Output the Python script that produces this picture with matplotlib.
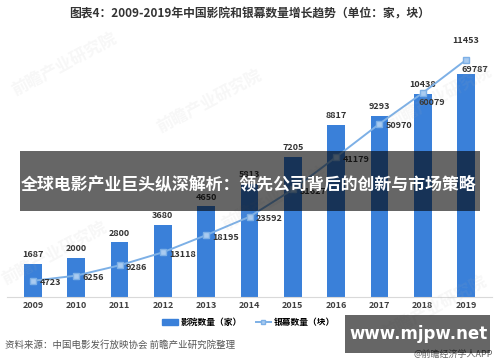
import matplotlib
matplotlib.use("Agg")
import matplotlib.pyplot as plt
from matplotlib.patches import Rectangle
from matplotlib.lines import Line2D
from matplotlib.patches import Patch

plt.rcParams['font.family'] = ['Noto Sans CJK SC', 'DejaVu Sans']

# data
years = ['2009', '2010', '2011', '2012', '2013', '2014', '2015', '2016', '2017', '2018', '2019']
cinemas = [1687, 2000, 2800, 3680, 4650, 5813, 7205, 8817, 9293, 10438, 11453]
screens = [4723, 6256, 9286, 13118, 18195, 23592, 31627, 41179, 50970, 60079, 69787]

bar_color = '#3a80d9'
line_color = '#7db0e6'

fig = plt.figure(figsize=(5, 3.62), dpi=100)
ax = fig.add_axes([0.014, 0.18, 0.97, 0.682])
x = range(len(years))

ax.bar(x, cinemas, width=0.41, color=bar_color, zorder=2)
for i, v in enumerate(cinemas):
    # last label sits above the line marker, like in the source chart
    y = v + 1500 if i == len(cinemas) - 1 else v + 250
    ax.text(i, y, str(v), ha='center', va='bottom', fontsize=6.5,
            fontweight='bold', color='#333333')

ax.set_xlim(-0.6, 10.6)
ax.set_ylim(0, 12690)
ax.set_xticks(list(x))
ax.set_xticklabels(years, fontsize=6.5, fontweight='bold', color='#404040')
ax.tick_params(axis='x', length=0, pad=3)
ax.set_yticks([])
for s in ['top', 'left', 'right']:
    ax.spines[s].set_visible(False)
ax.spines['bottom'].set_color('#d9d9d9')

ax2 = ax.twinx()
ax2.plot(x, screens, color=line_color, lw=1.4, marker='s', markersize=3.8,
         markerfacecolor='#a9cbf0', markeredgecolor=line_color, zorder=3)
for i, v in enumerate(screens):
    if i >= 9:
        ax2.text(i - 0.1, v - 2900, str(v), ha='left', va='center', fontsize=6.5,
                 fontweight='bold', color='#333333')
    else:
        ax2.text(i + 0.15, v - 600, str(v), ha='left', va='center', fontsize=6.5,
                 fontweight='bold', color='#333333')
ax2.set_ylim(0, 72730)
ax2.set_yticks([])
for s in ['top', 'left', 'right', 'bottom']:
    ax2.spines[s].set_visible(False)

# title
fig.text(0.5, 0.962, '图表4：2009-2019年中国影院和银幕数量增长趋势（单位：家，块）',
         ha='center', va='center', fontsize=8.5, fontweight='bold', color='#333333')

# legend
handles = [Patch(color=bar_color, label='影院数量（家）'),
           Line2D([0], [0], color=line_color, lw=1.4, marker='s', markersize=3.5,
                  markerfacecolor='#a9cbf0', label='银幕数量（块）')]
fig.legend(handles=handles, loc='center', bbox_to_anchor=(0.497, 0.11), ncol=2,
           frameon=False, handlelength=1.8, handletextpad=0.3, columnspacing=1.6,
           prop={'weight': 'bold', 'size': 6.3})

# source
fig.text(0.01, 0.047, '资料来源：中国电影发行放映协会 前瞻产业研究院整理',
         ha='left', va='center', fontsize=6.8, color='#555555')

# watermarks
for wx, wy in [(0.13, 0.82), (0.42, 0.72), (0.11, 0.3), (0.55, 0.45), (0.88, 0.73), (0.87, 0.15)]:
    fig.text(wx, wy, '前瞻产业研究院', rotation=28, fontsize=12, color='#b0b0b0',
             alpha=0.1, ha='center', va='center', fontweight='bold')

# overlay banner
fig.patches.append(Rectangle((0.04, 1 - 211 / 362), 0.92, 60 / 362, transform=fig.transFigure,
                             facecolor='black', alpha=0.6, zorder=10))
fig.text(0.498, 1 - 184 / 362, '全球电影产业巨头纵深解析：领先公司背后的创新与市场策略',
         ha='center', va='center', fontsize=12.2, fontweight='bold', color='white', zorder=11)

# site box
fig.text(0.985, 0.022, '@前瞻经济学人APP', ha='right', va='center', fontsize=6.5,
         color='#666666', zorder=9)
fig.patches.append(Rectangle((0.69, 1 - 353 / 362), 0.29, 38 / 362, transform=fig.transFigure,
                             facecolor='black', alpha=0.6, zorder=10))
fig.text(0.838, 1 - 334 / 362, 'www.mjpw.net', ha='center', va='center', fontsize=12,
         fontweight='bold', color='white', family='DejaVu Sans', zorder=11)

fig.savefig('out.png', dpi=100)
